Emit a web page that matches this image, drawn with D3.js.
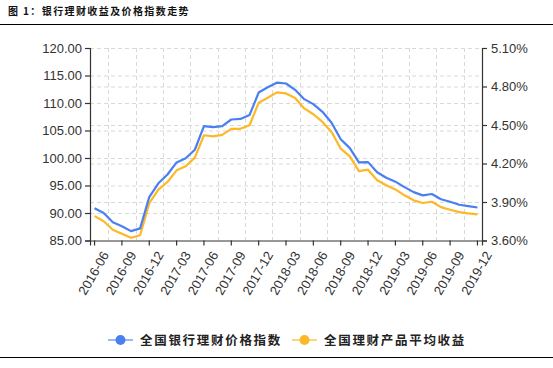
<!DOCTYPE html>
<html><head><meta charset="utf-8">
<script src="https://cdn.jsdelivr.net/npm/d3@7"></script>
<style>
html,body{margin:0;padding:0;background:#fff;}
svg{display:block;}
</style></head>
<body>
<svg id="chart" width="553" height="368"></svg>
<script>
const title = "图 1：银行理财收益及价格指数走势";
const months = ["2016-06","2016-07","2016-08","2016-09","2016-10","2016-11","2016-12",
"2017-01","2017-02","2017-03","2017-04","2017-05","2017-06","2017-07","2017-08","2017-09","2017-10","2017-11","2017-12",
"2018-01","2018-02","2018-03","2018-04","2018-05","2018-06","2018-07","2018-08","2018-09","2018-10","2018-11","2018-12",
"2019-01","2019-02","2019-03","2019-04","2019-05","2019-06","2019-07","2019-08","2019-09","2019-10","2019-11","2019-12"];
const seriesNames = ["全国银行理财价格指数","全国理财产品平均收益"];
const priceIndex = [90.85,90.0,88.3,87.6,86.7,87.2,92.9,95.4,97.0,99.2,99.95,101.5,105.8,105.6,105.8,107.0,107.1,107.8,111.9,
112.85,113.7,113.55,112.4,110.7,109.8,108.4,106.4,103.4,101.8,99.2,99.25,97.4,96.4,95.7,94.7,93.8,93.2,93.45,92.5,92.05,91.5,91.25,91.0];
const avgYield = [3.79,3.75,3.684,3.652,3.621,3.641,3.891,3.996,4.056,4.147,4.178,4.246,4.42,4.412,4.423,4.47,4.47,4.498,4.673,
4.712,4.754,4.746,4.71,4.629,4.584,4.524,4.446,4.316,4.256,4.141,4.152,4.069,4.030,3.998,3.952,3.913,3.892,3.902,3.860,3.840,3.821,3.811,3.803];
const leftTicks = [85,90,95,100,105,110,115,120];
const rightTicks = [3.6,3.9,4.2,4.5,4.8,5.1];
const xTickLabels = ["2016-06","2016-09","2016-12","2017-03","2017-06","2017-09","2017-12","2018-03","2018-06","2018-09","2018-12","2019-03","2019-06","2019-09","2019-12"];

const colors = ["#4a7ff0","#fdb827"];
const legendLineColors = ["#9bb8f6","#fdd57f"];

const svg = d3.select("#chart");
const L = 90, R = 482, T = 48, B = 240.5;

const x = d3.scaleBand().domain(months).range([L, R]).padding(0);
const yL = d3.scaleLinear().domain([85,120]).range([B, T]);
const yR = d3.scaleLinear().domain([3.6,5.1]).range([B, T]);
const cx = m => x(m) + x.bandwidth()/2;

// title
svg.append("text").attr("x", 8).attr("y", 15).text(title)
  .attr("font-family", "'Noto Sans CJK SC', sans-serif").attr("font-size", 10)
  .attr("font-weight", 700).attr("letter-spacing", 1.4).attr("fill", "#111");
svg.append("line").attr("x1",0).attr("x2",553).attr("y1",24.5).attr("y2",24.5).attr("stroke","#000").attr("stroke-width",1.2);
svg.append("line").attr("x1",0).attr("x2",553).attr("y1",357.5).attr("y2",357.5).attr("stroke","#000").attr("stroke-width",1.2);

// grid
const grid = svg.append("g").attr("stroke","#d9d9d9").attr("stroke-dasharray","4,3").attr("stroke-width",1);
const hs = new Set();
leftTicks.forEach(t => hs.add(Math.round(yL(t)*10)/10));
rightTicks.forEach(t => hs.add(Math.round(yR(t)*10)/10));
hs.forEach(y => { if (y < B - 1) grid.append("line").attr("x1",L).attr("x2",R).attr("y1",y+0.5).attr("y2",y+0.5); });
months.forEach((m,i) => { if (i % 3 === 2) grid.append("line").attr("x1",Math.round(x(m))+0.5).attr("x2",Math.round(x(m))+0.5).attr("y1",T).attr("y2",B); });

// axes
const font = "'Liberation Sans', Arial, sans-serif";
const gL = svg.append("g").attr("transform",`translate(${L},0)`)
  .call(d3.axisLeft(yL).tickValues(leftTicks).tickFormat(d3.format(".2f")).tickSize(5).tickPadding(3));
const gR = svg.append("g").attr("transform",`translate(${R},0)`)
  .call(d3.axisRight(yR).tickValues(rightTicks).tickFormat(d => d.toFixed(2)+"%").tickSize(5).tickPadding(4));
const gB = svg.append("g").attr("transform",`translate(0,${B})`)
  .call(d3.axisBottom(x).tickValues(xTickLabels).tickSize(5).tickPadding(3));
[gL,gR,gB].forEach(g => {
  g.select(".domain").attr("stroke","#333").attr("stroke-width",1.2);
  g.selectAll(".tick line").attr("stroke","#333").attr("stroke-width",1.2);
  g.selectAll("text").attr("font-family",font).attr("font-size",13).attr("fill","#333");
});
gB.selectAll("text").attr("text-anchor","end").attr("dy","0.35em")
  .attr("transform","translate(4,8) rotate(-60)");

// lines
const lineL = d3.line().x((d,i)=>cx(months[i])).y(d=>yL(d));
const lineR = d3.line().x((d,i)=>cx(months[i])).y(d=>yR(d));
svg.append("path").datum(avgYield).attr("d",lineR).attr("fill","none").attr("stroke",colors[1]).attr("stroke-width",2.2).attr("stroke-linejoin","round");
svg.append("path").datum(priceIndex).attr("d",lineL).attr("fill","none").attr("stroke",colors[0]).attr("stroke-width",2.2).attr("stroke-linejoin","round");

// legend
const legX = [108, 292];
seriesNames.forEach((n,i) => {
  const g = svg.append("g").attr("transform",`translate(${legX[i]},340)`);
  g.append("line").attr("x1",0).attr("x2",25).attr("y1",0).attr("y2",0).attr("stroke",legendLineColors[i]).attr("stroke-width",2);
  g.append("circle").attr("cx",12.5).attr("cy",0).attr("r",5).attr("fill",colors[i]);
  g.append("text").attr("x",32).attr("y",4.5).text(n)
    .attr("font-family","'Noto Sans CJK SC', sans-serif").attr("font-size",12.5).attr("font-weight",700)
    .attr("letter-spacing",1.7).attr("fill","#222");
});
</script>
</body></html>
